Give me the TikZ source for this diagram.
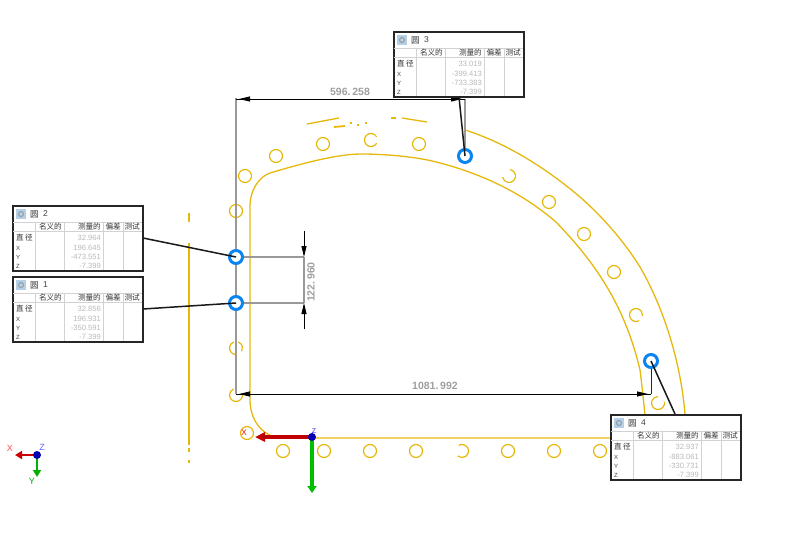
\documentclass[tikz,border=0pt]{standalone}
\usepackage{fontspec}
\setmainfont{Liberation Sans}
\newfontfamily\cjk{Noto Sans CJK SC}
\usetikzlibrary{arrows.meta}

\definecolor{partyellow}{HTML}{E6B80C}
\definecolor{holeblue}{HTML}{0A84F0}
\definecolor{iconblue}{HTML}{B4CFE8}

\tikzset{
  partline/.style={draw=partyellow, line width=1.3pt},
  hole/.style={circle, draw=partyellow, line width=1.2pt, minimum size=13pt, inner sep=0pt},
  pickhole/.style={circle, draw=holeblue, line width=3pt, minimum size=13pt, inner sep=0pt},
  extline/.style={draw=gray!80, line width=1.2pt},
  dimline/.style={draw=black!85, line width=0.9pt},
  dimtip/.style={-{Triangle[length=11pt,width=5pt]}, draw=black, fill=black, line width=0.9pt, shorten >=3pt},
  dimtext/.style={text=gray!75, font=\bfseries\fontsize{10.5}{10.5}\selectfont},
  leader/.style={draw=black!90, line width=1.5pt},
  tablebox/.style={draw=black!85, line width=1.5pt, fill=white, anchor=north west,
    minimum width=130pt, minimum height=65pt, inner sep=0pt},
  tablegrid/.style={draw=gray!35, line width=0.7pt},
  headtext/.style={font=\cjk\fontsize{7.6}{7.6}\selectfont, text=black!80, inner sep=0pt},
  rowtext/.style={font=\fontsize{6}{6}\selectfont, text=black!75, inner sep=0pt, anchor=west},
  valtext/.style={font=\fontsize{7.6}{7.6}\selectfont, text=gray!55, inner sep=0pt, anchor=east},
}

\newcommand{\openhole}[4]{\draw[partline, line width=1.2pt] (#1,#2) ++(#3:6.5) arc[start angle=#3, end angle=#4, radius=6.5];}

% box name, x, y, number, then the four measured values
\newcommand{\circtable}[8]{
\node[tablebox] (#1) at (#2,#3) {};
\begin{scope}[shift={(#2,#3)}]
\draw[tablegrid] (1,17) -- (130,17);
\draw[tablegrid] (1,26) -- (130,26);
\draw[tablegrid] (23,17) -- (23,65);
\draw[tablegrid] (52,17) -- (52,65);
\draw[tablegrid] (91,17) -- (91,65);
\draw[tablegrid] (111,17) -- (111,65);
\node[fill=iconblue, minimum size=10pt, inner sep=0pt] (#1icon) at (9,9) {};
\draw[gray!80, line width=1pt] (#1icon.center) circle (2.5);
\node[headtext, anchor=west, font=\cjk\fontsize{8.5}{8.5}\selectfont] (#1name) at (18,9) {圆};
\node[rowtext, font=\fontsize{8.5}{8.5}\selectfont] (#1num) at (31,9) {#4};
\node[headtext, anchor=east] (#1nom) at (50,21.5) {名义的};
\node[headtext, anchor=east] (#1mea) at (89,21.5) {测量的};
\node[headtext, anchor=east] (#1dev) at (109,21.5) {偏差};
\node[headtext, anchor=east] (#1test) at (128,21.5) {测试};
\node[headtext, anchor=west] (#1dia) at (4,33) {直\,径};
\node[rowtext] (#1x) at (4,43) {X};
\node[rowtext] (#1y) at (4,52) {Y};
\node[rowtext] (#1z) at (4,61) {Z};
\node[valtext] (#1v1) at (89,33) {#5};
\node[valtext] (#1v2) at (89,43) {#6};
\node[valtext] (#1v3) at (89,52) {#7};
\node[valtext] (#1v4) at (89,61) {#8};
\end{scope}
}

\begin{document}
\begin{tikzpicture}[x=1pt, y=-1pt]
\useasboundingbox (0,0) rectangle (803,536);

% part outline
\draw[partline] (189,213) -- (189,222);
\draw[partline] (189,243) -- (189,445);
\draw[partline] (189,448) -- (189,452);
\draw[partline] (189,460) -- (189,463);

\draw[partline] (645,415) .. controls (644,406) and (642,385) .. (640,370)
  .. controls (633,340) and (622,312) .. (607,287)
  .. controls (592,262) and (576,243) .. (557,223)
  .. controls (523,193) and (482,174) .. (440,163)
  .. controls (420,157) and (385,154) .. (362,154)
  .. controls (345,154) and (320,158) .. (270,173)
  .. controls (258,177) and (250,192) .. (250,205)
  -- (250,400) .. controls (250,420) and (262,434) .. (275,437)
  -- (312,438) -- (612,438);
\draw[partline] (465,130) .. controls (500,141) and (540,163) .. (580,197)
  .. controls (605,219) and (625,243) .. (640,267)
  .. controls (665,310) and (681,365) .. (685,414);

% broken pieces along the top
\draw[partline] (307,124) -- (339,118);
\draw[partline, line width=1.8pt] (334,127) -- (345,126);
\draw[partline] (350,123) -- (352,123);
\draw[partline] (357,125) -- (359,125);
\draw[partline] (365,123) -- (367,123);
\draw[partline] (391,118) -- (396,118);
\draw[partline] (402,118) -- (427,122);

% holes
\node[hole] (h1) at (245,176) {};
\node[hole] (h2) at (276,156) {};
\node[hole] (h3) at (323,144) {};
\node[hole] (h4) at (419,144) {};
\node[hole] (h5) at (549,202) {};
\node[hole] (h6) at (584,234) {};
\node[hole] (h7) at (614,272) {};
\node[hole] (h8) at (236,211) {};
\node[hole] (h9) at (283,451) {};
\node[hole] (h10) at (324,451) {};
\node[hole] (h11) at (370,451) {};
\node[hole] (h12) at (416,451) {};
\node[hole] (h13) at (508,451) {};
\node[hole] (h14) at (554,451) {};
\node[hole] (h15) at (600,451) {};
\node[hole] (h16) at (247,433) {};
\openhole{371}{140}{30}{330}
\openhole{509}{176}{-80}{170}
\openhole{636}{315}{60}{370}
\openhole{658}{403}{-10}{270}
\openhole{236}{348}{-70}{30}
\openhole{236}{348}{90}{250}
\openhole{236}{395}{0}{250}
\openhole{462}{451}{-120}{130}

% picked circles
\node[pickhole] (hole1) at (236,303) {};
\node[pickhole] (hole2) at (236,257) {};
\node[pickhole] (hole3) at (465,156) {};
\node[pickhole] (hole4) at (651,361) {};

% dimensions
\coordinate (dimtop) at (236,98);
\coordinate (dimtopa) at (236,99);
\coordinate (dimtopb) at (465,99);
\coordinate (dimlow) at (236,394);
\coordinate (dimlowb) at (651,394);
\coordinate (dimv1) at (304,257);
\coordinate (dimv2) at (304,303);
\coordinate (dimv1end) at (304,231);
\coordinate (dimv2end) at (304,329);

\draw[extline] (dimtop) -- (hole2);
\draw[extline] (hole2) -- (hole1);
\draw[extline] (hole1) -- (dimlow);
\draw[extline] (dimtopb) -- (hole3);
\draw[dimline] (hole4) -- (dimlowb);
\draw[extline] (hole2) -- (dimv1);
\draw[extline] (hole1) -- (dimv2);
\draw[extline] (dimv1) -- (dimv2);
\draw[dimline] (dimtopa) -- (dimtopb);
\draw[dimline] (dimlow) -- (dimlowb);
\draw[dimtip] (dimtopb) -- (dimtopa);
\draw[dimtip] (dimtopa) -- (dimtopb);
\draw[dimtip] (dimlowb) -- (dimlow);
\draw[dimtip] (dimlow) -- (dimlowb);
\draw[dimtip, shorten >=0pt] (dimv1end) -- (dimv1);
\draw[dimtip, shorten >=0pt] (dimv2end) -- (dimv2);
\node[dimtext] (dim1) at (350,92) {596.\,258};
\node[dimtext] (dim2) at (435,386) {1081.\,992};
\node[dimtext, rotate=90] (dim3) at (311,282) {122.\,960};

% axes at the part origin
\coordinate (axisorg) at (312,437);
\coordinate (axisx) at (255,437);
\coordinate (axisy) at (312,493);
\draw[-{Triangle[length=10pt,width=9pt]}, draw=red!75!black, fill=red!75!black, line width=4pt] (axisorg) -- (axisx);
\draw[-{Triangle[length=7pt,width=9pt]}, draw=green!75!black, fill=green!75!black, line width=4pt] (axisorg) -- (axisy);
\node[circle, fill=blue!70!black, minimum size=8pt, inner sep=0pt] (origin) at (axisorg) {};
\node[text=red, inner sep=0pt, font=\fontsize{8}{8}\selectfont] (labx) at (244,433) {X};
\node[text=blue!80, inner sep=0pt, font=\fontsize{7}{7}\selectfont] (labz) at (314,431) {Z};

% small triad
\coordinate (triadorg) at (37,455);
\coordinate (triadx) at (15,455);
\coordinate (triady) at (37,477);
\draw[-{Triangle[length=7pt,width=8pt]}, draw=red!80!black, line width=2.5pt] (triadorg) -- (triadx);
\draw[-{Triangle[length=7pt,width=8pt]}, draw=green!70!black, line width=2.5pt] (triadorg) -- (triady);
\node[circle, fill=blue!70!black, minimum size=8pt, inner sep=0pt] (triad) at (triadorg) {};
\node[text=red!70, inner sep=0pt, font=\fontsize{9}{9}\selectfont] (tx) at (10,448) {X};
\node[text=blue!60, inner sep=0pt, font=\fontsize{9}{9}\selectfont] (tz) at (42,447) {Z};
\node[text=green!70!black, inner sep=0pt, font=\fontsize{9}{9}\selectfont] (ty) at (32,481) {Y};

% tables
\circtable{box2}{12}{205}{2}{32.964}{196.645}{-473.551}{-7.399}
\circtable{box1}{12}{276}{1}{32.856}{196.931}{-350.591}{-7.399}
\circtable{box3}{393}{31}{3}{33.019}{-399.413}{-733.383}{-7.399}
\circtable{box4}{610}{414}{4}{32.937}{-883.061}{-330.731}{-7.399}

% leaders
\coordinate (lead1) at (143,309);
\coordinate (lead2) at (143,238);
\coordinate (lead3) at (459,97);
\coordinate (lead4) at (675,414);
\draw[leader] (lead1) -- (hole1.center);
\draw[leader] (lead2) -- (hole2.center);
\draw[leader] (lead3) -- (hole3.center);
\draw[leader] (lead4) -- (hole4.center);
\end{tikzpicture}
\end{document}
